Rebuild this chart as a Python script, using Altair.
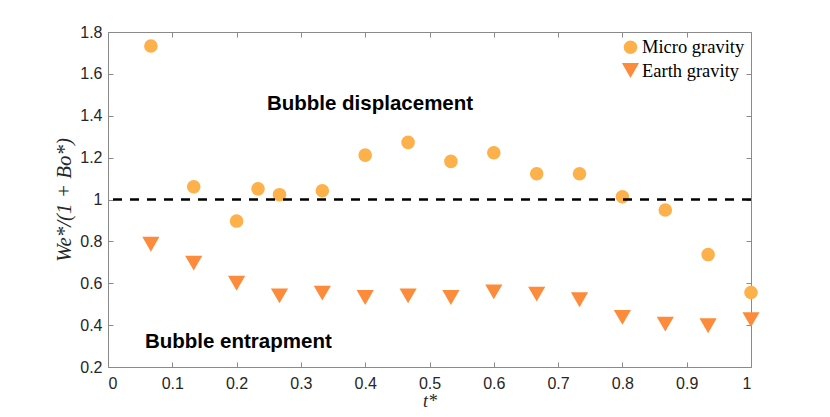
import altair as alt
import pandas as pd

# ---- data ----
micro_t = [0.0667, 0.1333, 0.2, 0.2333, 0.2667, 0.3333, 0.4, 0.4667, 0.5333,
           0.6, 0.6667, 0.7333, 0.8, 0.8667, 0.9333, 1.0]
micro_val = [1.733, 1.061, 0.897, 1.051, 1.023, 1.042, 1.212, 1.273, 1.182,
             1.223, 1.123, 1.123, 1.013, 0.950, 0.737, 0.556]
earth_t = [0.0667, 0.1333, 0.2, 0.2667, 0.3333, 0.4, 0.4667, 0.5333,
           0.6, 0.6667, 0.7333, 0.8, 0.8667, 0.9333, 1.0]
earth_val = [0.786, 0.696, 0.600, 0.540, 0.553, 0.532, 0.540, 0.532,
             0.559, 0.548, 0.521, 0.437, 0.405, 0.397, 0.426]
series_names = ["Micro gravity", "Earth gravity"]
series_colors = ["#FDB14A", "#FC8C3B"]
series_shapes = ["circle", "triangle-down"]
x_ticks = [0, 0.1, 0.2, 0.3, 0.4, 0.5, 0.6, 0.7, 0.8, 0.9, 1]
y_ticks = [0.2, 0.4, 0.6, 0.8, 1, 1.2, 1.4, 1.6, 1.8]
threshold = 1.0

df = pd.DataFrame({
    "t": micro_t + earth_t,
    "v": micro_val + earth_val,
    "series": [series_names[0]] * len(micro_t) + [series_names[1]] * len(earth_t),
})

W, H = 643, 335
PAD_L, PAD_T = 100, 24
AX = "#8a8a8a"
TXT = "#262626"
sx = alt.Scale(domain=[0, 1], nice=False, zero=False)
sy = alt.Scale(domain=[0.2, 1.8], nice=False, zero=False)

points = alt.Chart(df).mark_point(filled=True, opacity=1, strokeWidth=0).encode(
    x=alt.X("t:Q", scale=sx, axis=alt.Axis(
        orient="bottom", values=x_ticks, format="~g", ticks=False, labelPadding=8,
        title="t*", titleFont="Liberation Serif", titleFontStyle="italic",
        titleFontWeight="normal", titleFontSize=18, titleColor=TXT, titlePadding=1,
        labelFont="Liberation Sans", labelFontSize=16, labelColor=TXT,
        domainColor=AX, grid=False)),
    y=alt.Y("v:Q", scale=sy, axis=alt.Axis(
        orient="left", values=y_ticks, format="~g", ticks=False, labelPadding=6,
        title="We*/(1 + Bo*)", titleFont="Liberation Serif", titleFontStyle="italic",
        titleFontWeight="normal", titleFontSize=21, titleColor=TXT, titlePadding=5,
        labelFont="Liberation Sans", labelFontSize=16, labelColor=TXT,
        domainColor=AX, grid=False)),
    color=alt.Color("series:N", scale=alt.Scale(domain=series_names, range=series_colors),
                    legend=alt.Legend(title=None)),
    shape=alt.Shape("series:N", scale=alt.Scale(domain=series_names, range=series_shapes),
                    legend=alt.Legend(title=None)),
    size=alt.Size("series:N", scale=alt.Scale(domain=series_names, range=[185, 295]),
                  legend=alt.Legend(title=None)),
)

rule = alt.Chart(pd.DataFrame({"y": [threshold]})).mark_rule(
    color="black", strokeWidth=2.5, strokeDash=[9, 8]
).encode(y=alt.Y("y:Q", scale=sy, axis=None))

text_disp = alt.Chart().mark_text(
    text="Bubble displacement", font="Liberation Sans", fontWeight="bold",
    fontSize=20.5, color="black", align="center", baseline="alphabetic"
).encode(
    x=alt.XDatum(0.4075, type="quantitative", scale=sx, axis=alt.Axis(
        orient="top", offset=-H, values=x_ticks, labels=False, ticks=True, tickSize=5,
        tickColor=AX, domain=False, title=None, grid=False)),
    y=alt.YDatum(1.427, type="quantitative", scale=sy, axis=alt.Axis(
        orient="right", offset=-W, values=y_ticks, labels=False, ticks=True, tickSize=5,
        tickColor=AX, domain=False, title=None, grid=False)),
)

text_entr = alt.Chart().mark_text(
    text="Bubble entrapment", font="Liberation Sans", fontWeight="bold",
    fontSize=20.5, color="black", align="center", baseline="alphabetic"
).encode(
    x=alt.XDatum(0.2027, type="quantitative", scale=sx, axis=alt.Axis(
        orient="bottom", offset=-H, values=x_ticks, labels=False, ticks=True, tickSize=5,
        tickColor=AX, domain=True, domainColor=AX, title=None, grid=False)),
    y=alt.YDatum(0.292, type="quantitative", scale=sy, axis=alt.Axis(
        orient="left", offset=-W, values=y_ticks, labels=False, ticks=True, tickSize=5,
        tickColor=AX, domain=True, domainColor=AX, title=None, grid=False)),
)

chart = alt.layer(points, text_disp, text_entr, rule).resolve_axis(
    x="independent", y="independent"
).properties(
    width=W, height=H,
    autosize=alt.AutoSizeParams(type="none"),
    padding={"left": PAD_L, "top": PAD_T, "right": 814 - PAD_L - W,
             "bottom": 401 - PAD_T - H},
    background="white",
).configure_view(stroke=None).configure_legend(
    orient="top-right", offset=6, padding=0, rowPadding=4,
    labelFont="Liberation Serif", labelFontSize=18.5, labelColor="black",
    labelOffset=2,
)

chart.save("out.html", embed_options={"renderer": "svg", "actions": False})
